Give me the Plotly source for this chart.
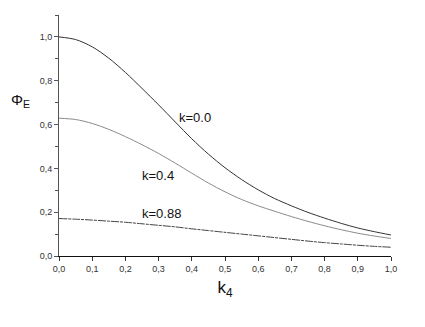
import plotly.graph_objects as go

k4 = [0.0, 0.05, 0.10, 0.15, 0.20, 0.25, 0.30, 0.35, 0.40, 0.45, 0.50,
      0.55, 0.60, 0.65, 0.70, 0.75, 0.80, 0.85, 0.90, 0.95, 1.00]
phi_k00 = [1.000, 0.988, 0.955, 0.903, 0.838, 0.765, 0.690, 0.612, 0.535, 0.465, 0.403,
           0.349, 0.302, 0.262, 0.229, 0.199, 0.173, 0.149, 0.128, 0.111, 0.096]
phi_k04 = [0.629, 0.623, 0.605, 0.578, 0.545, 0.508, 0.468, 0.424, 0.378, 0.333, 0.293,
           0.258, 0.229, 0.204, 0.180, 0.158, 0.138, 0.120, 0.104, 0.091, 0.080]
phi_k088 = [0.171, 0.168, 0.164, 0.159, 0.154, 0.147, 0.140, 0.133, 0.124, 0.116, 0.108,
            0.100, 0.092, 0.084, 0.076, 0.068, 0.061, 0.055, 0.049, 0.044, 0.040]
labels = ["k=0.0", "k=0.4", "k=0.88"]
label_x = [0.355, 0.245, 0.245]
label_y = [0.632, 0.368, 0.194]

fig = go.Figure()
fig.add_trace(go.Scatter(x=k4, y=phi_k00, mode="lines", line=dict(color="#333333", width=1, shape="spline", smoothing=0.8)))
fig.add_trace(go.Scatter(x=k4, y=phi_k04, mode="lines", line=dict(color="#8a8a8a", width=1, shape="spline", smoothing=0.8)))
fig.add_trace(go.Scatter(x=k4, y=phi_k088, mode="lines",
                         line=dict(color="#444444", width=1, shape="spline", smoothing=0.8, dash="8px,1px,3px,1px")))

for t, x, y in zip(labels, label_x, label_y):
    fig.add_annotation(x=x, y=y, text=t, showarrow=False, xanchor="left", yanchor="middle",
                       font=dict(family="Liberation Sans, Arial", size=13, color="#111111"))

fig.add_annotation(xref="paper", yref="y", x=-0.117, y=0.71, text="Φ<sub>E</sub>", showarrow=False,
                   xanchor="center", yanchor="middle",
                   font=dict(family="Liberation Sans, Arial", size=15, color="#111111"))

fig.update_layout(
    width=417, height=319,
    margin=dict(l=51, r=34, t=7, b=71, pad=0),
    paper_bgcolor="white", plot_bgcolor="white",
    showlegend=False,
    separators=", ",
    font=dict(family="Liberation Sans, Arial", size=9, color="#333333"),
)
fig.update_xaxes(range=[0, 1.0], dtick=0.1, tick0=0, tickformat=".1f",
                 showgrid=False, zeroline=False, showline=True, linecolor="#111111", linewidth=1.2,
                 ticks="outside", ticklen=4, tickcolor="#333333",
                 tickfont=dict(size=9, color="#333333"),
                 title=dict(text="k<sub>4</sub>", font=dict(size=17, color="#111111"), standoff=8))
fig.update_yaxes(range=[0, 1.1], dtick=0.2, tick0=0, tickformat=".1f",
                 showgrid=False, zeroline=False, showline=True, linecolor="#555555", linewidth=1,
                 ticks="outside", ticklen=4, tickcolor="#555555",
                 tickfont=dict(size=9, color="#333333"),
                 minor=dict(ticks="outside", dtick=0.1, tick0=0, ticklen=3, tickcolor="#555555"))

fig.write_html("out.html")
